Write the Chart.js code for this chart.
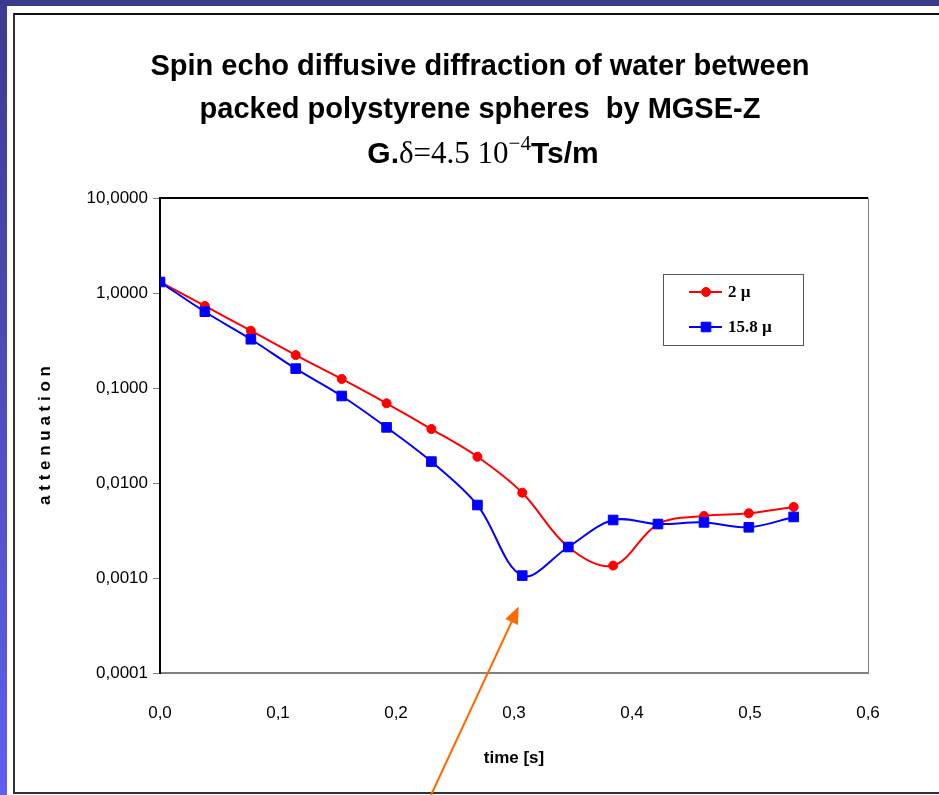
<!DOCTYPE html>
<html lang="en">

<head>
  <meta charset="utf-8">
  <title>Spin echo diffusive diffraction</title>
  <script src="https://cdn.jsdelivr.net/npm/chart.js@4.4.0/dist/chart.umd.min.js"></script>
  <style>
    body { margin: 0; width: 939px; height: 795px; overflow: hidden; background: #fff; position: relative; }
    .band { position: absolute; left: 0; top: 0; width: 100%; height: 6px; background: #3b3b8e; }
    .strip { position: absolute; left: 0; top: 0; width: 7px; height: 795px; background: linear-gradient(#3b3b8e, #5f5ff0); }
    .panel { position: absolute; left: 13px; top: 13px; right: -10px; bottom: 1px;
      border-left: 2px solid #333; border-top: 2px solid #111; border-bottom: 2px solid #333; }
    #myChart { position: absolute; left: 0; top: 0; }
  </style>
</head>

<body>
  <div class="band"></div>
  <div class="strip"></div>
  <div class="panel"></div>
  <canvas id="myChart" width="939" height="795"></canvas>

  <script>
    // time [s]
    const times = [0, 0.038, 0.077, 0.115, 0.154, 0.192, 0.230, 0.269, 0.307, 0.346, 0.384, 0.422, 0.461, 0.499, 0.537];
    // attenuation, 2 µ spheres
    const att2 = [1.306, 0.73, 0.401, 0.222, 0.1245, 0.069, 0.037, 0.0189, 0.0079, 0.00212, 0.00135, 0.0037, 0.0045, 0.0048, 0.0056];
    // attenuation, 15.8 µ spheres
    const att158 = [1.306, 0.635, 0.326, 0.16, 0.0824, 0.0385, 0.0168, 0.00586, 0.00106, 0.00212, 0.00408, 0.0037, 0.00385, 0.00342, 0.00439];
    const yTicks = [0.0001, 0.001, 0.01, 0.1, 1, 10];
    const seriesNames = ['2 \u00b5', '15.8 \u00b5'];

    const sans = "'Liberation Sans', Arial, sans-serif";
    const serif = "'Liberation Serif', 'Times New Roman', serif";

    // title with mixed fonts on the last line
    const titlePlugin = {
      id: 'titleLines',
      afterDraw(chart) {
        const ctx = chart.ctx;
        const cx = 480;
        ctx.save();
        ctx.fillStyle = '#000';
        ctx.textBaseline = 'middle';
        ctx.textAlign = 'center';
        ctx.font = 'bold 29px ' + sans;
        ctx.fillText('Spin echo diffusive diffraction of water between', cx, 67);
        ctx.fillText('packed polystyrene spheres  by MGSE-Z', cx, 110);
        const parts = [
          { t: 'G.', f: 'bold 30px ' + sans, dy: 0 },
          { t: '\u03b4=4.5 10', f: '31px ' + serif, dy: 0 },
          { t: '\u22124', f: '21px ' + serif, dy: -11 },
          { t: 'Ts/m', f: 'bold 30px ' + sans, dy: 0 }
        ];
        let total = 0;
        parts.forEach(p => { ctx.font = p.f; p.w = ctx.measureText(p.t).width; total += p.w; });
        let x = cx + 3 - total / 2;
        ctx.textAlign = 'left';
        parts.forEach(p => {
          ctx.font = p.f;
          ctx.fillText(p.t, x, 155 + p.dy);
          x += p.w;
        });
        ctx.restore();
      }
    };

    // top and right edges of the plot frame
    const framePlugin = {
      id: 'frame',
      beforeDatasetsDraw(chart) {
        const { ctx, chartArea: a } = chart;
        ctx.save();
        ctx.strokeStyle = '#000';
        ctx.lineWidth = 2;
        ctx.beginPath();
        ctx.moveTo(a.left, a.top);
        ctx.lineTo(a.right, a.top);
        ctx.stroke();
        ctx.strokeStyle = '#808080';
        ctx.lineWidth = 1;
        ctx.beginPath();
        ctx.moveTo(a.right + 0.5, a.top);
        ctx.lineTo(a.right + 0.5, a.bottom);
        ctx.stroke();
        ctx.restore();
      }
    };

    // boxed legend inside the plot
    const legendPlugin = {
      id: 'boxLegend',
      afterDraw(chart) {
        const ctx = chart.ctx;
        const bx = 663, by = 274, bw = 140, bh = 71;
        ctx.save();
        ctx.fillStyle = '#fff';
        ctx.fillRect(bx, by, bw, bh);
        ctx.strokeStyle = '#555';
        ctx.lineWidth = 1;
        ctx.strokeRect(bx + 0.5, by + 0.5, bw, bh);
        ctx.font = 'bold 17px ' + serif;
        ctx.textBaseline = 'middle';
        const rows = [chart.data.datasets[0], chart.data.datasets[1]];
        rows.forEach((ds, i) => {
          const y = by + 18 + i * 35;
          ctx.strokeStyle = ds.borderColor;
          ctx.fillStyle = ds.backgroundColor;
          ctx.lineWidth = 2;
          ctx.beginPath();
          ctx.moveTo(bx + 26, y);
          ctx.lineTo(bx + 59, y);
          ctx.stroke();
          ctx.lineWidth = 1;
          Chart.helpers.drawPoint(ctx, {
            pointStyle: ds.pointStyle, radius: ds.pointRadius, borderWidth: 1
          }, bx + 43, y);
          ctx.fillStyle = '#000';
          ctx.fillText(ds.label, bx + 65, y + 1);
        });
        ctx.restore();
      }
    };

    // orange arrow pointing at the 15.8 µ minimum
    const arrowPlugin = {
      id: 'arrow',
      afterDraw(chart) {
        const { ctx, scales } = chart;
        const tipX = scales.x.getPixelForValue(0.304);
        const tipY = scales.y.getPixelForValue(0.0005);
        const tailX = scales.x.getPixelForValue(0.2297);
        const tailY = chart.height;
        const ang = Math.atan2(tipY - tailY, tipX - tailX);
        ctx.save();
        ctx.strokeStyle = '#ff6a00';
        ctx.fillStyle = '#ff6a00';
        ctx.lineWidth = 2;
        ctx.beginPath();
        ctx.moveTo(tailX, tailY);
        ctx.lineTo(tipX - 12 * Math.cos(ang), tipY - 12 * Math.sin(ang));
        ctx.stroke();
        ctx.beginPath();
        ctx.moveTo(tipX, tipY);
        ctx.lineTo(tipX - 17 * Math.cos(ang) + 7 * Math.sin(ang), tipY - 17 * Math.sin(ang) - 7 * Math.cos(ang));
        ctx.lineTo(tipX - 17 * Math.cos(ang) - 7 * Math.sin(ang), tipY - 17 * Math.sin(ang) + 7 * Math.cos(ang));
        ctx.closePath();
        ctx.fill();
        ctx.restore();
      }
    };

    const ctx = document.getElementById('myChart').getContext('2d');
    Chart.defaults.font.family = sans;
    Chart.defaults.color = '#000';

    const myChart = new Chart(ctx, {
      type: 'line',
      data: {
        datasets: [{
          label: seriesNames[0],
          data: times.map((t, i) => ({ x: t, y: att2[i] })),
          borderColor: '#ff0000',
          backgroundColor: '#ff0000',
          pointStyle: 'circle',
          pointRadius: 4.5,
          pointBorderWidth: 1,
          borderWidth: 2,
          tension: 0.35,
          order: 1
        }, {
          label: seriesNames[1],
          data: times.map((t, i) => ({ x: t, y: att158[i] })),
          borderColor: '#0000ff',
          backgroundColor: '#0000ff',
          pointStyle: 'rect',
          pointRadius: 6.8,
          pointBorderWidth: 1,
          borderWidth: 2,
          tension: 0.35,
          order: 0
        }]
      },
      options: {
        responsive: false,
        animation: false,
        layout: { padding: { top: 198, right: 71, left: 0, bottom: 0 } },
        plugins: {
          legend: { display: false },
          title: { display: false },
          tooltip: { enabled: false }
        },
        scales: {
          x: {
            type: 'linear',
            min: 0,
            max: 0.6,
            afterFit: s => { s.height = 122; },
            ticks: {
              stepSize: 0.1,
              padding: 30,
              font: { size: 17 },
              callback: v => v.toFixed(1).replace('.', ',')
            },
            grid: { display: false, drawTicks: false },
            border: { color: '#808080', width: 2 },
            title: {
              display: true,
              text: 'time [s]',
              font: { size: 17, weight: 'bold' },
              padding: { top: 0, bottom: 26 }
            }
          },
          y: {
            type: 'logarithmic',
            min: 0.0001,
            max: 10,
            afterFit: s => { s.width = 160; },
            afterBuildTicks: s => { s.ticks = yTicks.map(v => ({ value: v })); },
            ticks: {
              padding: 5,
              font: { size: 17 },
              callback: v => v.toFixed(4).replace('.', ',')
            },
            grid: { drawOnChartArea: false, drawTicks: true, tickLength: 7, color: '#808080' },
            border: { color: '#000', width: 2 },
            title: {
              display: true,
              text: 'a t t e n u a t i o n',
              font: { size: 17, weight: 'bold' },
              padding: { top: 35, bottom: 0 }
            }
          }
        }
      },
      plugins: [titlePlugin, framePlugin, legendPlugin, arrowPlugin]
    });
  </script>

</body>

</html>
